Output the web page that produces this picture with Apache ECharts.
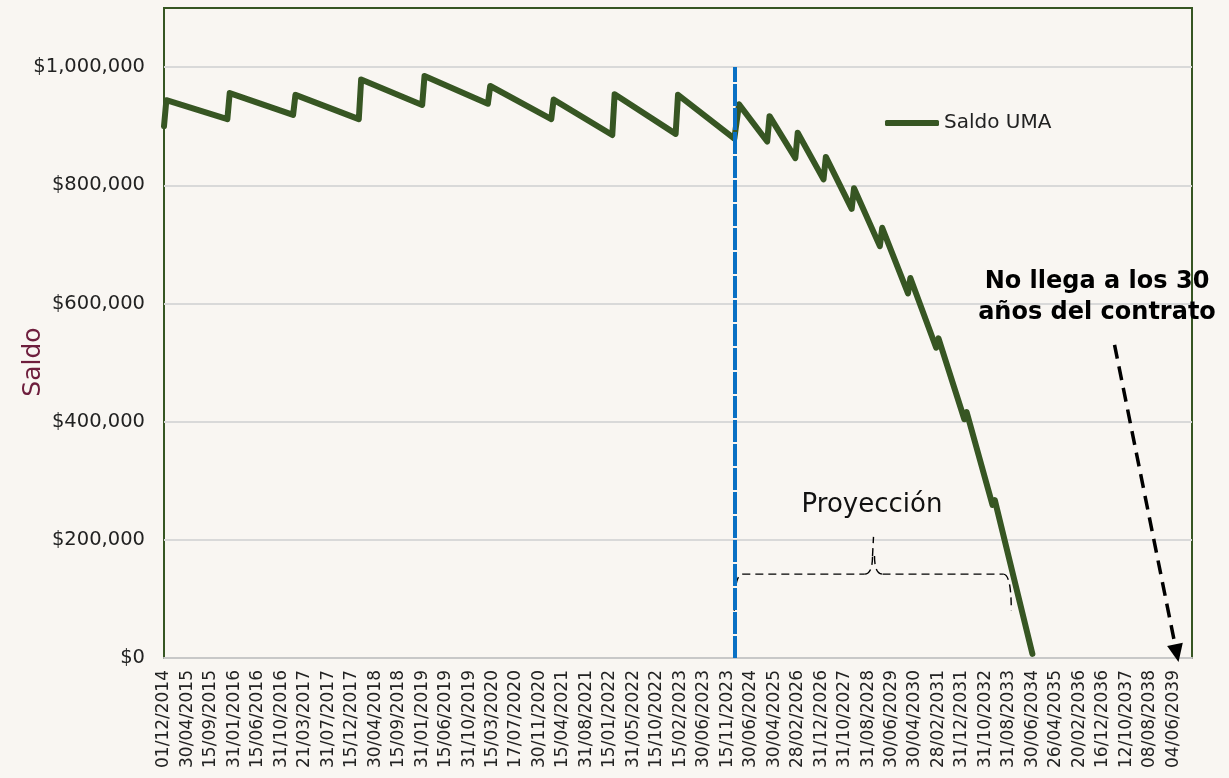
<!DOCTYPE html>
<html>
<head>
<meta charset="utf-8">
<script src="https://cdn.jsdelivr.net/npm/echarts@6/dist/echarts.min.js"></script>
<style>
  html, body { margin: 0; padding: 0; background: #f9f6f2; }
  #chart { width: 1229px; height: 778px; }
</style>
</head>
<body>
<div id="chart"></div>
<script>
// tick labels, one every 10 periods
var tickLabels = ["01/12/2014","30/04/2015","15/09/2015","31/01/2016","15/06/2016","31/10/2016",
    "21/03/2017","31/07/2017","15/12/2017","30/04/2018","15/09/2018","31/01/2019","15/06/2019",
    "31/10/2019","15/03/2020","17/07/2020","30/11/2020","15/04/2021","31/08/2021","15/01/2022",
    "31/05/2022","15/10/2022","15/02/2023","30/06/2023","15/11/2023","30/06/2024","30/04/2025",
    "28/02/2026","31/12/2026","31/10/2027","31/08/2028","30/06/2029","30/04/2030","28/02/2031",
    "31/12/2031","31/10/2032","31/08/2033","30/06/2034","26/04/2035","20/02/2036","16/12/2036",
    "12/10/2037","08/08/2038","04/06/2039"];
var lastPeriod = 438;

// period index of each turning point of the balance and its value
var periodIdx = [0, 1, 27, 28, 55, 56, 83, 84, 110, 111, 138, 139, 165, 166, 191, 192, 218, 219,
    243, 245, 257, 258, 269, 270, 281, 282, 293, 294, 305, 306, 317, 318, 329, 330, 341, 342,
    353, 354, 370];
var saldoUMA = [900000, 944000, 912000, 956000, 919000, 953000, 912000, 979000, 936000, 985000,
    938000, 968000, 912000, 945000, 885000, 954000, 887000, 953000,
    879000, 937000, 874000, 917000, 846000, 889000, 810000, 848000, 760000, 795000, 697000, 728000,
    617000, 643000, 525000, 541000, 404000, 416000, 259000, 267000, 7000];

// start of projection
var proyeccionIdx = 243;

var font = "DejaVu Sans";
var green = "#375623";

var seriesData = [];
for (var i = 0; i < periodIdx.length; i++) {
    seriesData.push([periodIdx[i], saldoUMA[i]]);
}

var myChart = echarts.init(document.getElementById('chart'));
var option = {
    animation: false,
    backgroundColor: '#f9f6f2',
    textStyle: { fontFamily: font },
    grid: {
        left: 164, right: 37, top: 8, bottom: 120,
        outerBoundsMode: 'none',
        containLabel: false,
        show: true,
        borderColor: green,
        borderWidth: 2
    },
    legend: {
        left: 880, top: 108,
        icon: 'roundRect',
        itemWidth: 54, itemHeight: 6, itemGap: 6,
        textStyle: { fontSize: 20, color: '#222', fontFamily: font },
        data: ['Saldo UMA']
    },
    xAxis: {
        type: 'value',
        min: 0, max: lastPeriod, interval: 10,
        axisLine: { show: true, lineStyle: { color: '#c8c8c8', width: 2 } },
        axisTick: { show: false },
        splitLine: { show: false },
        axisLabel: {
            rotate: 90,
            margin: 12,
            fontSize: 17,
            color: '#222',
            fontFamily: font,
            formatter: function (v) {
                if (v % 10 !== 0) return '';
                return tickLabels[v / 10] || '';
            }
        }
    },
    yAxis: {
        type: 'value',
        min: 0, max: 1100000, interval: 200000,
        name: 'Saldo',
        nameLocation: 'middle',
        nameGap: 118,
        nameMoveOverlap: false,
        nameTextStyle: { color: '#6e1e3d', fontSize: 25, fontFamily: font, padding: [0, 58, 0, 0] },
        axisLine: { show: false },
        axisTick: { show: false },
        splitLine: { showMaxLine: false, lineStyle: { color: '#d9d9d9', width: 2 } },
        axisLabel: {
            margin: 19,
            fontSize: 19.5,
            color: '#222',
            fontFamily: font,
            showMaxLabel: false,
            formatter: function (v) {
                if (v > 1000000) return '';
                return '$' + v.toLocaleString('en-US');
            }
        }
    },
    series: [{
        name: 'Saldo UMA',
        type: 'line',
        showSymbol: false,
        symbol: 'none',
        color: green,
        lineStyle: { width: 6, color: green, cap: 'round', join: 'round' },
        data: seriesData,
        z: 3,
        markLine: {
            silent: true,
            label: { show: false },
            data: [
                [
                    { coord: [proyeccionIdx, 0], symbol: 'none',
                      lineStyle: { color: '#0a70c4', width: 4, type: [22, 2] } },
                    { coord: [proyeccionIdx, 1000000], symbol: 'none' }
                ],
                [
                    { coord: [405, 530000], symbol: 'none',
                      lineStyle: { color: '#000', width: 3.5, type: [14, 8] } },
                    { coord: [431.5, 8000], symbol: 'triangle', symbolSize: [16, 18] }
                ]
            ]
        }
    }]
};
myChart.setOption(option);

// brace under "Proyección"
var pL = myChart.convertToPixel({ gridIndex: 0 }, [proyeccionIdx, 80000]);
var pR = myChart.convertToPixel({ gridIndex: 0 }, [361, 80000]);
var pMid = myChart.convertToPixel({ gridIndex: 0 }, [302.3, 142000]);
var pTip = myChart.convertToPixel({ gridIndex: 0 }, [302.3, 205000]);
var xl = pL[0], xr = pR[0], yLow = pL[1], yMid = pMid[1], xc = pMid[0], yTip = pTip[1];
var braceStyle = { fill: null, stroke: '#000', lineWidth: 1.4, lineDash: [8, 5] };

myChart.setOption({
    graphic: [
        { type: 'bezierCurve', silent: true, style: braceStyle,
          shape: { x1: xl, y1: yLow, cpx1: xl, cpy1: yMid, x2: xl + 8, y2: yMid } },
        { type: 'line', silent: true, style: braceStyle,
          shape: { x1: xl + 8, y1: yMid, x2: xc - 9, y2: yMid } },
        { type: 'bezierCurve', silent: true, style: braceStyle,
          shape: { x1: xc - 9, y1: yMid, cpx1: xc - 1, cpy1: yMid, x2: xc - 1, y2: yMid - 18 } },
        { type: 'line', silent: true, style: braceStyle,
          shape: { x1: xc - 1, y1: yMid - 18, x2: xc, y2: yTip } },
        { type: 'bezierCurve', silent: true, style: braceStyle,
          shape: { x1: xc + 1, y1: yMid - 18, cpx1: xc + 1, cpy1: yMid, x2: xc + 9, y2: yMid } },
        { type: 'line', silent: true, style: braceStyle,
          shape: { x1: xc + 9, y1: yMid, x2: xr - 8, y2: yMid } },
        { type: 'bezierCurve', silent: true, style: braceStyle,
          shape: { x1: xr - 8, y1: yMid, cpx1: xr, cpy1: yMid, x2: xr, y2: yLow } },
        {
            type: 'text',
            x: 872, y: 505,
            silent: true,
            style: {
                text: 'Proyección',
                font: '26px "DejaVu Sans"',
                fill: '#111',
                textAlign: 'center',
                textVerticalAlign: 'middle'
            }
        },
        {
            type: 'text',
            x: 1097, y: 297,
            silent: true,
            style: {
                text: 'No llega a los 30\naños del contrato',
                font: 'bold 24px "DejaVu Sans"',
                lineHeight: 31,
                fill: '#000',
                textAlign: 'center',
                textVerticalAlign: 'middle'
            }
        }
    ]
});
</script>
</body>
</html>
